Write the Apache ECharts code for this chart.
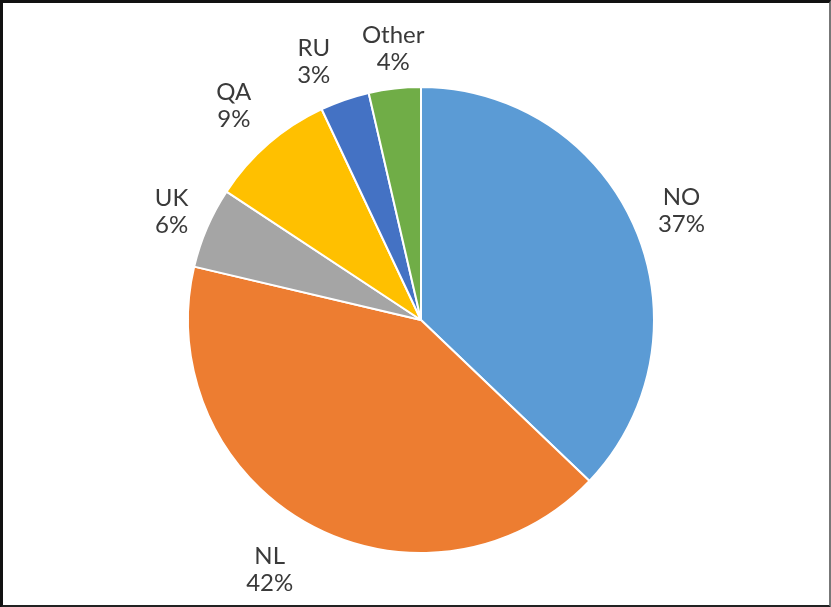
<!DOCTYPE html>
<html><head><meta charset="utf-8">
<script src="https://cdn.jsdelivr.net/npm/echarts@6/dist/echarts.min.js"></script>
<style>
html,body{margin:0;padding:0;background:#fff;}
#frame{position:absolute;left:0;top:0;width:826px;height:602px;border-top:3px solid #111;border-left:3px solid #111;border-right:2px solid #777;border-bottom:3px solid #222;}
#c{position:absolute;left:0;top:0;width:831px;height:607px;}
</style></head>
<body>
<div id="c"></div>
<div id="frame"></div>
<script>
const categories = ['NO', 'NL', 'UK', 'QA', 'RU', 'Other'];
const shares = [37.1, 41.5, 5.6, 8.7, 3.4, 3.6];
const colors = ['#5b9bd5', '#ed7d31', '#a5a5a5', '#ffc000', '#4472c4', '#70ad47'];

// label layout tweaks (pixels), mimicking the spreadsheet's own label placement
const labelNudge = [[0, 2], [-15, -2], [5, 2], [-2, 0], [-15, 8], [4, 8]];

const CX = 421, CY = 320, R = 233, GAP = 18;
const total = shares.reduce((a, b) => a + b, 0);
const midAngles = [];
let cum = 0;
shares.forEach(v => { midAngles.push((cum + v / 2) / total * 2 * Math.PI); cum += v; });

const chart = echarts.init(document.getElementById('c'), null, {renderer: 'canvas'});
chart.setOption({
  animation: false,
  series: [{
    type: 'pie',
    center: [CX, CY],
    radius: R,
    startAngle: 90,
    clockwise: true,
    avoidLabelOverlap: false,
    data: categories.map((n, i) => ({name: n, value: shares[i], itemStyle: {color: colors[i]}})),
    itemStyle: {borderColor: '#fff', borderWidth: 2},
    label: {
      show: true,
      position: 'outside',
      formatter: p => p.name + '\n' + Math.round(p.percent) + '%',
      color: '#3a3a3a',
      fontFamily: 'Lato',
      fontSize: 24,
      lineHeight: 27
    },
    labelLine: {show: false, length: 8, length2: 0},
    labelLayout: function (params) {
      const i = params.dataIndex;
      const a = midAngles[i];
      const dx = Math.sin(a), dy = -Math.cos(a);
      const w = params.labelRect.width, h = params.labelRect.height;
      const ext = Math.abs(dx) * w / 2 + Math.abs(dy) * h / 2;
      const d = R + GAP + ext;
      return {x: CX + dx * d + labelNudge[i][0], y: CY + dy * d + labelNudge[i][1], align: 'center', verticalAlign: 'middle'};
    },
    emphasis: {disabled: true}
  }]
});
</script>
</body></html>
